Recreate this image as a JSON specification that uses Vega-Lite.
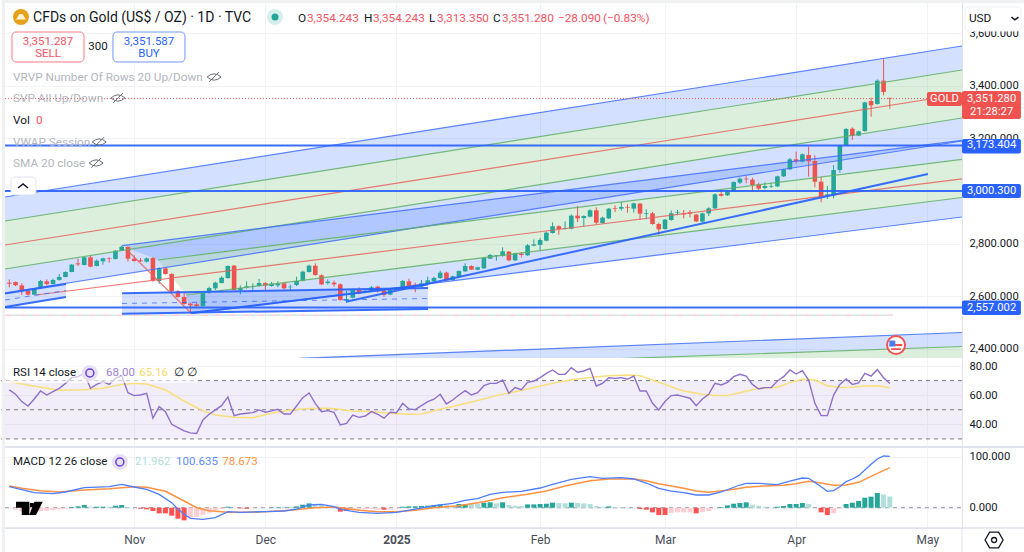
{"$schema":"https://vega.github.io/schema/vega-lite/v6.json","padding":0,"spacing":0,"bounds":"flush","background":"white",
"config":{"view":{"stroke":null},"font":"Roboto","axis":{"labelFont":"Roboto","labelFontSize":11.2,"labelColor":"#131722","gridColor":"#f2f3f7","gridWidth":1,"ticks":false,"title":null}},
"datasets":{
"candles":[{"k":0,"open":2651.4,"close":2647.6,"high":2664,"low":2633.7},{"k":1,"open":2654,"close":2641.3,"high":2655.3,"low":2638.8},{"k":2,"open":2641,"close":2619.8,"high":2649,"low":2604.6},{"k":3,"open":2621,"close":2605.8,"high":2626,"low":2603},{"k":4,"open":2606,"close":2628.6,"high":2631,"low":2603},{"k":5,"open":2630,"close":2657.8,"high":2661.6,"low":2628.6},{"k":6,"open":2656.5,"close":2646.4,"high":2664,"low":2641},{"k":7,"open":2646,"close":2661.6,"high":2666.6,"low":2645},{"k":8,"open":2662,"close":2673,"high":2684.4,"low":2659},{"k":9,"open":2673,"close":2692,"high":2694.5,"low":2671.7},{"k":10,"open":2692,"close":2720,"high":2722.4,"low":2690.7},{"k":11,"open":2725,"close":2721,"high":2742.7,"low":2714.8},{"k":12,"open":2718.6,"close":2747.8,"high":2750,"low":2717.3},{"k":13,"open":2747.8,"close":2712.3,"high":2755.4,"low":2709.8},{"k":14,"open":2714.8,"close":2735,"high":2740,"low":2713.5},{"k":15,"open":2732.6,"close":2744,"high":2746.5,"low":2720},{"k":16,"open":2745,"close":2742.7,"high":2747.8,"low":2727.5},{"k":17,"open":2741.4,"close":2773,"high":2775.6,"low":2740},{"k":18,"open":2773,"close":2788,"high":2792,"low":2771.8},{"k":19,"open":2787,"close":2742.7,"high":2789.6,"low":2731.3},{"k":20,"open":2742.7,"close":2733.8,"high":2755.4,"low":2731.3},{"k":21,"open":2736.4,"close":2732.6,"high":2745,"low":2730},{"k":22,"open":2731.3,"close":2744,"high":2747.8,"low":2727.5},{"k":23,"open":2745,"close":2659,"high":2747.8,"low":2655.3},{"k":24,"open":2657.8,"close":2707.2,"high":2709.8,"low":2646.4},{"k":25,"open":2706,"close":2684.4,"high":2709.8,"low":2681.9},{"k":26,"open":2684.4,"close":2618.5,"high":2687,"low":2616},{"k":27,"open":2619.8,"close":2597,"high":2623.6,"low":2594.4},{"k":28,"open":2597,"close":2570.3,"high":2613.4,"low":2567.8},{"k":29,"open":2571.6,"close":2565.3,"high":2575.4,"low":2537.4},{"k":30,"open":2569,"close":2562.7,"high":2575.4,"low":2557.7},{"k":31,"open":2562.7,"close":2613.4,"high":2616,"low":2560},{"k":32,"open":2612,"close":2631,"high":2636,"low":2609.6},{"k":33,"open":2629.9,"close":2651.4,"high":2655.3,"low":2623.6},{"k":34,"open":2650,"close":2670.5,"high":2675.5,"low":2649},{"k":35,"open":2669,"close":2714.8,"high":2717.3,"low":2666.7},{"k":36,"open":2716,"close":2623.6,"high":2718.6,"low":2621},{"k":37,"open":2623.6,"close":2631,"high":2641,"low":2607},{"k":38,"open":2632.5,"close":2637.5,"high":2656.5,"low":2628.6},{"k":39,"open":2636,"close":2638.8,"high":2649,"low":2617.2},{"k":40,"open":2638.8,"close":2650,"high":2665.4,"low":2636},{"k":41,"open":2650,"close":2640,"high":2654,"low":2621},{"k":42,"open":2638.8,"close":2647.6,"high":2654,"low":2636},{"k":43,"open":2641.3,"close":2647.6,"high":2656.5,"low":2633.7},{"k":44,"open":2649,"close":2629.9,"high":2652.7,"low":2624.8},{"k":45,"open":2633.7,"close":2636,"high":2643.8,"low":2619.8},{"k":46,"open":2642.6,"close":2657.8,"high":2674.3,"low":2638.8},{"k":47,"open":2659,"close":2693.3,"high":2697,"low":2656.5},{"k":48,"open":2692,"close":2716,"high":2720,"low":2689.5},{"k":49,"open":2716,"close":2680.6,"high":2725,"low":2678},{"k":50,"open":2679.3,"close":2645,"high":2683,"low":2642.6},{"k":51,"open":2650,"close":2655.3,"high":2664,"low":2643.8},{"k":52,"open":2651.4,"close":2645,"high":2659,"low":2636},{"k":53,"open":2645,"close":2585.5,"high":2649,"low":2583},{"k":54,"open":2583,"close":2589.4,"high":2621,"low":2575.4},{"k":55,"open":2594.4,"close":2626,"high":2628.6,"low":2592},{"k":56,"open":2623.6,"close":2610.9,"high":2633.7,"low":2607},{"k":57,"open":2613.5,"close":2618.5,"high":2623.6,"low":2612},{"k":58,"open":2618.5,"close":2633.7,"high":2638.8,"low":2616},{"k":59,"open":2636.3,"close":2618.5,"high":2640,"low":2613.5},{"k":60,"open":2621,"close":2604.6,"high":2623.6,"low":2598},{"k":61,"open":2605.9,"close":2623.6,"high":2626,"low":2603.3},{"k":62,"open":2624.8,"close":2628.6,"high":2633.7,"low":2622.3},{"k":63,"open":2624.8,"close":2657.8,"high":2661.6,"low":2622.3},{"k":64,"open":2656.5,"close":2638.8,"high":2666.7,"low":2633.7},{"k":65,"open":2643.9,"close":2640,"high":2651.5,"low":2614.7},{"k":66,"open":2636.3,"close":2649,"high":2661.6,"low":2633.7},{"k":67,"open":2647.7,"close":2660.4,"high":2674.3,"low":2645},{"k":68,"open":2656.5,"close":2669.2,"high":2674.3,"low":2654},{"k":69,"open":2669.2,"close":2689.5,"high":2697,"low":2666.7},{"k":70,"open":2689.5,"close":2660.4,"high":2693.3,"low":2657.8},{"k":71,"open":2661.6,"close":2675.6,"high":2678,"low":2659},{"k":72,"open":2674.3,"close":2695.8,"high":2698.4,"low":2671.8},{"k":73,"open":2694.6,"close":2714.8,"high":2725,"low":2692},{"k":74,"open":2714.8,"close":2700.9,"high":2717.4,"low":2699.6},{"k":75,"open":2700.9,"close":2709.8,"high":2712.3,"low":2698.4},{"k":76,"open":2706,"close":2745.3,"high":2747.8,"low":2703.4},{"k":77,"open":2742.7,"close":2756.7,"high":2760.5,"low":2741.5},{"k":78,"open":2752.9,"close":2755.4,"high":2756.7,"low":2735.1},{"k":79,"open":2752.9,"close":2770.6,"high":2785.8,"low":2750.3},{"k":80,"open":2769.3,"close":2736.4,"high":2771.9,"low":2732.6},{"k":81,"open":2736.4,"close":2763,"high":2765.5,"low":2733.9},{"k":82,"open":2761.7,"close":2756.7,"high":2768,"low":2747.8},{"k":83,"open":2755.4,"close":2793.4,"high":2798.5,"low":2752.9},{"k":84,"open":2792.2,"close":2797.2,"high":2816.2,"low":2789.6},{"k":85,"open":2794.7,"close":2813.7,"high":2821.3,"low":2773.2},{"k":86,"open":2811.2,"close":2841.6,"high":2846.6,"low":2808.6},{"k":87,"open":2840.3,"close":2865.7,"high":2880.9,"low":2837.8},{"k":88,"open":2865.7,"close":2855.5,"high":2869.5,"low":2834},{"k":89,"open":2855.5,"close":2859.3,"high":2884.7,"low":2853},{"k":90,"open":2856.8,"close":2906.2,"high":2911.3,"low":2854.3},{"k":91,"open":2906.2,"close":2896,"high":2943,"low":2882},{"k":92,"open":2897.3,"close":2905,"high":2907.5,"low":2864.4},{"k":93,"open":2902.4,"close":2926.5,"high":2930.3,"low":2899.9},{"k":94,"open":2926.5,"close":2879.6,"high":2937.9,"low":2874.5},{"k":95,"open":2878.3,"close":2898.6,"high":2902.4,"low":2875.8},{"k":96,"open":2896,"close":2932.8,"high":2935.4,"low":2893.5},{"k":97,"open":2935.4,"close":2932.8,"high":2945.5,"low":2920.2},{"k":98,"open":2932.8,"close":2939.2,"high":2958.2,"low":2925.2},{"k":99,"open":2937.9,"close":2935.4,"high":2949.3,"low":2917.6},{"k":100,"open":2932.8,"close":2953.1,"high":2955.7,"low":2917.6},{"k":101,"open":2951.9,"close":2913.8,"high":2954.4,"low":2889.7},{"k":102,"open":2912.6,"close":2915.1,"high":2930.3,"low":2892.3},{"k":103,"open":2915.1,"close":2874.5,"high":2920.2,"low":2872},{"k":104,"open":2874.5,"close":2854.3,"high":2879.6,"low":2832.7},{"k":105,"open":2855.5,"close":2891,"high":2893.5,"low":2853},{"k":106,"open":2889.7,"close":2915.1,"high":2925.2,"low":2887.2},{"k":107,"open":2917.6,"close":2920.2,"high":2927.8,"low":2907.5},{"k":108,"open":2915,"close":2911,"high":2927.7,"low":2896},{"k":109,"open":2918.9,"close":2913.8,"high":2927.7,"low":2899.8},{"k":110,"open":2910,"close":2884.6,"high":2912.5,"low":2882.1},{"k":111,"open":2883.4,"close":2915,"high":2917.6,"low":2879.6},{"k":112,"open":2915,"close":2934,"high":2937.9,"low":2904.9},{"k":113,"open":2934,"close":2987.3,"high":2991,"low":2931.5},{"k":114,"open":2988.6,"close":2982.2,"high":3006.3,"low":2978.4},{"k":115,"open":2983.5,"close":2998.7,"high":3002.5,"low":2981},{"k":116,"open":2999.9,"close":3034.2,"high":3036.7,"low":2997.4},{"k":117,"open":3031.7,"close":3046.9,"high":3051.9,"low":3026.6},{"k":118,"open":3046.9,"close":3044.3,"high":3057,"low":3029.1},{"k":119,"open":3043,"close":3022.8,"high":3050.7,"low":2998.7},{"k":120,"open":3025.3,"close":3008.8,"high":3031.7,"low":3003.8},{"k":121,"open":3011.4,"close":3019,"high":3033,"low":3006.3},{"k":122,"open":3016.4,"close":3019,"high":3031.7,"low":3011.4},{"k":123,"open":3017.7,"close":3055.7,"high":3058.3,"low":3015.2},{"k":124,"open":3055.7,"close":3082.3,"high":3084.9,"low":3053.2},{"k":125,"open":3082.3,"close":3120.4,"high":3125.4,"low":3079.8},{"k":126,"open":3120.4,"close":3112.8,"high":3149.5,"low":3105.2},{"k":127,"open":3111.5,"close":3139.4,"high":3143.2,"low":3109},{"k":128,"open":3136.8,"close":3112.8,"high":3168.5,"low":3054.5},{"k":129,"open":3114,"close":3035.5,"high":3135.6,"low":3013.9},{"k":130,"open":3035.5,"close":2978.4,"high":3054.5,"low":2956.9},{"k":131,"open":2984.8,"close":2987.3,"high":3019,"low":2969.5},{"k":132,"open":2983.5,"close":3079.8,"high":3098.8,"low":2972},{"k":133,"open":3079.8,"close":3172.3,"high":3174.9,"low":3069.7},{"k":134,"open":3174.9,"close":3235.7,"high":3239.5,"low":3172.3},{"k":135,"open":3237,"close":3209.1,"high":3242,"low":3193.9},{"k":136,"open":3210.3,"close":3226.8,"high":3229.4,"low":3209.1},{"k":137,"open":3228,"close":3337.1,"high":3339.6,"low":3225.6},{"k":138,"open":3342.2,"close":3325.7,"high":3354.8,"low":3282.6},{"k":139,"open":3330.8,"close":3419.5,"high":3424.5,"low":3328.2},{"k":140,"open":3419.5,"close":3376.4,"high":3500.6,"low":3363.7},{"k":141,"open":3354.243,"close":3351.28,"high":3354.243,"low":3313.35}],
"ind":[{"k":0,"rsi":63.6,"hist":-0.7,"phase":"n"},{"k":1,"rsi":60.6,"hist":-3.9,"phase":"n"},{"k":2,"rsi":55.6,"hist":-7.2,"phase":"n"},{"k":3,"rsi":52.6,"hist":-6.5,"phase":"n"},{"k":4,"rsi":57.4,"hist":-7.8,"phase":"n"},{"k":5,"rsi":62.9,"hist":-6.5,"phase":"n"},{"k":6,"rsi":60.1,"hist":-5.9,"phase":"n"},{"k":7,"rsi":62.4,"hist":-4.6,"phase":"n"},{"k":8,"rsi":64.7,"hist":-3.3,"phase":"n"},{"k":9,"rsi":68.1,"hist":-1.3,"phase":"n"},{"k":10,"rsi":72,"hist":1.3,"phase":"P"},{"k":11,"rsi":72.7,"hist":2.6,"phase":"P"},{"k":12,"rsi":75,"hist":5.2,"phase":"P"},{"k":13,"rsi":64.7,"hist":2,"phase":"p"},{"k":14,"rsi":67.4,"hist":2,"phase":"P"},{"k":15,"rsi":69.3,"hist":2,"phase":"P"},{"k":16,"rsi":67.4,"hist":2,"phase":"p"},{"k":17,"rsi":71.5,"hist":3.9,"phase":"P"},{"k":18,"rsi":73.4,"hist":5.2,"phase":"P"},{"k":19,"rsi":61.7,"hist":1.3,"phase":"p"},{"k":20,"rsi":59.7,"hist":0,"phase":"p"},{"k":21,"rsi":60.1,"hist":-2,"phase":"N"},{"k":22,"rsi":61.3,"hist":-3.3,"phase":"N"},{"k":23,"rsi":44.2,"hist":-6.5,"phase":"N"},{"k":24,"rsi":52.1,"hist":-11.1,"phase":"N"},{"k":25,"rsi":48.7,"hist":-11.1,"phase":"N"},{"k":26,"rsi":40,"hist":-15.7,"phase":"N"},{"k":27,"rsi":37.8,"hist":-21.6,"phase":"N"},{"k":28,"rsi":35.5,"hist":-24.8,"phase":"N"},{"k":29,"rsi":34.1,"hist":-19.6,"phase":"n"},{"k":30,"rsi":33.7,"hist":-18.3,"phase":"n"},{"k":31,"rsi":43,"hist":-14.4,"phase":"n"},{"k":32,"rsi":46.9,"hist":-9.8,"phase":"n"},{"k":33,"rsi":49.9,"hist":-5.2,"phase":"n"},{"k":34,"rsi":52.8,"hist":-2.6,"phase":"n"},{"k":35,"rsi":58.8,"hist":2,"phase":"P"},{"k":36,"rsi":46,"hist":0,"phase":"p"},{"k":37,"rsi":47.1,"hist":-1.3,"phase":"N"},{"k":38,"rsi":47.6,"hist":-2,"phase":"N"},{"k":39,"rsi":48,"hist":-0.7,"phase":"n"},{"k":40,"rsi":49.9,"hist":-0.7,"phase":"n"},{"k":41,"rsi":48.3,"hist":-0.7,"phase":"n"},{"k":42,"rsi":49.2,"hist":0.7,"phase":"P"},{"k":43,"rsi":50.3,"hist":0.7,"phase":"P"},{"k":44,"rsi":47.1,"hist":0.7,"phase":"P"},{"k":45,"rsi":47.1,"hist":0.7,"phase":"P"},{"k":46,"rsi":52.6,"hist":2.6,"phase":"P"},{"k":47,"rsi":58.3,"hist":5.9,"phase":"P"},{"k":48,"rsi":61.5,"hist":8.5,"phase":"P"},{"k":49,"rsi":54.4,"hist":7.8,"phase":"p"},{"k":50,"rsi":48.7,"hist":5.2,"phase":"p"},{"k":51,"rsi":49.4,"hist":2.6,"phase":"p"},{"k":52,"rsi":48.3,"hist":0,"phase":"p"},{"k":53,"rsi":39.6,"hist":-7.8,"phase":"N"},{"k":54,"rsi":40.7,"hist":-6.5,"phase":"N"},{"k":55,"rsi":46.4,"hist":-3.9,"phase":"n"},{"k":56,"rsi":44.8,"hist":-3.3,"phase":"n"},{"k":57,"rsi":45.7,"hist":-3.3,"phase":"n"},{"k":58,"rsi":48.7,"hist":-2.6,"phase":"n"},{"k":59,"rsi":46.9,"hist":-3.9,"phase":"n"},{"k":60,"rsi":44.2,"hist":-3.9,"phase":"N"},{"k":61,"rsi":48.3,"hist":-3.3,"phase":"n"},{"k":62,"rsi":48,"hist":-1.3,"phase":"n"},{"k":63,"rsi":54.4,"hist":2,"phase":"P"},{"k":64,"rsi":50.5,"hist":2.6,"phase":"P"},{"k":65,"rsi":50.1,"hist":2.6,"phase":"P"},{"k":66,"rsi":52.8,"hist":3.3,"phase":"P"},{"k":67,"rsi":55.6,"hist":3.9,"phase":"P"},{"k":68,"rsi":57.2,"hist":5.2,"phase":"P"},{"k":69,"rsi":60.6,"hist":6.5,"phase":"P"},{"k":70,"rsi":54,"hist":5.2,"phase":"p"},{"k":71,"rsi":56.7,"hist":3.3,"phase":"p"},{"k":72,"rsi":60.1,"hist":7.2,"phase":"P"},{"k":73,"rsi":63.1,"hist":7.2,"phase":"P"},{"k":74,"rsi":60.1,"hist":7.8,"phase":"p"},{"k":75,"rsi":61.7,"hist":7.8,"phase":"p"},{"k":76,"rsi":66.5,"hist":9.8,"phase":"P"},{"k":77,"rsi":68.1,"hist":10.5,"phase":"P"},{"k":78,"rsi":68.1,"hist":8.5,"phase":"p"},{"k":79,"rsi":70.4,"hist":10.5,"phase":"P"},{"k":80,"rsi":61.3,"hist":5.2,"phase":"p"},{"k":81,"rsi":65.2,"hist":3.9,"phase":"p"},{"k":82,"rsi":63.8,"hist":3.3,"phase":"p"},{"k":83,"rsi":68.8,"hist":6.5,"phase":"P"},{"k":84,"rsi":69.7,"hist":6.5,"phase":"P"},{"k":85,"rsi":72,"hist":7.2,"phase":"P"},{"k":86,"rsi":75,"hist":7.8,"phase":"P"},{"k":87,"rsi":77.3,"hist":9.8,"phase":"P"},{"k":88,"rsi":74.3,"hist":9.2,"phase":"p"},{"k":89,"rsi":74.3,"hist":8.5,"phase":"p"},{"k":90,"rsi":78.9,"hist":9.8,"phase":"P"},{"k":91,"rsi":75.7,"hist":9.2,"phase":"p"},{"k":92,"rsi":76.6,"hist":8.5,"phase":"p"},{"k":93,"rsi":78.4,"hist":7.2,"phase":"p"},{"k":94,"rsi":66.3,"hist":3.3,"phase":"p"},{"k":95,"rsi":68.1,"hist":2,"phase":"p"},{"k":96,"rsi":72,"hist":2.6,"phase":"P"},{"k":97,"rsi":71.5,"hist":1.3,"phase":"p"},{"k":98,"rsi":72,"hist":1.3,"phase":"p"},{"k":99,"rsi":70.9,"hist":0.7,"phase":"p"},{"k":100,"rsi":73.1,"hist":0,"phase":"p"},{"k":101,"rsi":62.9,"hist":-2.6,"phase":"N"},{"k":102,"rsi":62.9,"hist":-3.9,"phase":"N"},{"k":103,"rsi":54.4,"hist":-9.2,"phase":"N"},{"k":104,"rsi":49.9,"hist":-14.4,"phase":"N"},{"k":105,"rsi":55.6,"hist":-14.4,"phase":"N"},{"k":106,"rsi":59.7,"hist":-10.5,"phase":"n"},{"k":107,"rsi":60.1,"hist":-9.2,"phase":"n"},{"k":108,"rsi":59,"hist":-9.2,"phase":"n"},{"k":109,"rsi":57.9,"hist":-9.2,"phase":"n"},{"k":110,"rsi":52.8,"hist":-11.1,"phase":"N"},{"k":111,"rsi":57.4,"hist":-8.5,"phase":"n"},{"k":112,"rsi":60.6,"hist":-6.5,"phase":"n"},{"k":113,"rsi":68.1,"hist":-0.7,"phase":"n"},{"k":114,"rsi":67,"hist":1.3,"phase":"P"},{"k":115,"rsi":68.8,"hist":4.6,"phase":"P"},{"k":116,"rsi":72.7,"hist":7.8,"phase":"P"},{"k":117,"rsi":74.3,"hist":9.2,"phase":"P"},{"k":118,"rsi":73.1,"hist":10.5,"phase":"P"},{"k":119,"rsi":67.4,"hist":5.9,"phase":"p"},{"k":120,"rsi":64.2,"hist":3.9,"phase":"p"},{"k":121,"rsi":65.2,"hist":2,"phase":"p"},{"k":122,"rsi":65.2,"hist":0.7,"phase":"p"},{"k":123,"rsi":69.7,"hist":2,"phase":"P"},{"k":124,"rsi":72.7,"hist":3.3,"phase":"P"},{"k":125,"rsi":77.3,"hist":7.2,"phase":"P"},{"k":126,"rsi":74.5,"hist":7.2,"phase":"P"},{"k":127,"rsi":76.8,"hist":9.2,"phase":"P"},{"k":128,"rsi":70.4,"hist":7.2,"phase":"p"},{"k":129,"rsi":54.4,"hist":0,"phase":"p"},{"k":130,"rsi":46,"hist":-9.2,"phase":"N"},{"k":131,"rsi":46,"hist":-14.4,"phase":"N"},{"k":132,"rsi":60.1,"hist":-11.1,"phase":"n"},{"k":133,"rsi":67.4,"hist":-2,"phase":"n"},{"k":134,"rsi":71.1,"hist":7.2,"phase":"P"},{"k":135,"rsi":67.4,"hist":9.8,"phase":"P"},{"k":136,"rsi":68.4,"hist":13.1,"phase":"P"},{"k":137,"rsi":75,"hist":19.6,"phase":"P"},{"k":138,"rsi":73.1,"hist":21.6,"phase":"P"},{"k":139,"rsi":77.5,"hist":28.8,"phase":"P"},{"k":140,"rsi":72,"hist":26.1,"phase":"p"},{"k":141,"rsi":68,"hist":21.96,"phase":"p"}],
"rsima":[{"k":0,"v":69.3},{"k":3,"v":67},{"k":6,"v":64.7},{"k":8,"v":63.3},{"k":12,"v":63.8},{"k":15,"v":64.7},{"k":18,"v":67.4},{"k":20,"v":68.1},{"k":22,"v":67.7},{"k":25,"v":63.6},{"k":28,"v":56},{"k":31,"v":49.2},{"k":33,"v":46.4},{"k":36,"v":44.8},{"k":39,"v":44.6},{"k":42,"v":47.6},{"k":45,"v":49.9},{"k":48,"v":50.8},{"k":51,"v":51},{"k":53,"v":50.3},{"k":55,"v":49.2},{"k":58,"v":48.7},{"k":61,"v":47.6},{"k":64,"v":46.9},{"k":66,"v":47.1},{"k":69,"v":50.3},{"k":72,"v":53.3},{"k":75,"v":56.3},{"k":78,"v":59.7},{"k":81,"v":62.4},{"k":84,"v":65.2},{"k":87,"v":68.1},{"k":90,"v":70.6},{"k":93,"v":72.2},{"k":96,"v":73.4},{"k":99,"v":73.8},{"k":101,"v":73.4},{"k":103,"v":70.4},{"k":105,"v":67.4},{"k":107,"v":64.2},{"k":108,"v":62.9},{"k":111,"v":60.6},{"k":113,"v":59.7},{"k":115,"v":59.7},{"k":117,"v":61.7},{"k":120,"v":64.7},{"k":123,"v":65.4},{"k":125,"v":68.6},{"k":127,"v":70.9},{"k":129,"v":70.4},{"k":131,"v":66.5},{"k":133,"v":65.2},{"k":135,"v":65.4},{"k":137,"v":66.3},{"k":139,"v":66.5},{"k":141,"v":65.16}],
"macdl":[{"k":0,"v":41.2},{"k":1,"v":38.6},{"k":4,"v":29.5},{"k":7,"v":27.5},{"k":9,"v":30.8},{"k":12,"v":39.3},{"k":16,"v":41.2},{"k":18,"v":45.8},{"k":20,"v":40.6},{"k":22,"v":36},{"k":24,"v":26.2},{"k":26,"v":9.9},{"k":27,"v":-2.6},{"k":28,"v":-13},{"k":29,"v":-20.9},{"k":31,"v":-22.8},{"k":33,"v":-19.6},{"k":35,"v":-7.8},{"k":37,"v":-9.1},{"k":41,"v":-7.8},{"k":44,"v":-6.5},{"k":46,"v":-2.6},{"k":48,"v":5.3},{"k":50,"v":6.6},{"k":52,"v":2},{"k":53,"v":-2.6},{"k":54,"v":-5.2},{"k":56,"v":-9.1},{"k":59,"v":-11.1},{"k":62,"v":-9.1},{"k":65,"v":-2.6},{"k":68,"v":4},{"k":71,"v":8.5},{"k":73,"v":14.4},{"k":75,"v":17.7},{"k":77,"v":26.2},{"k":79,"v":30.1},{"k":82,"v":32.1},{"k":85,"v":38.6},{"k":87,"v":45.8},{"k":90,"v":55.6},{"k":93,"v":60.8},{"k":95,"v":57.6},{"k":98,"v":58.9},{"k":100,"v":56.3},{"k":102,"v":48.4},{"k":104,"v":38},{"k":106,"v":32.7},{"k":108,"v":29.5},{"k":110,"v":24.9},{"k":112,"v":24.9},{"k":114,"v":30.8},{"k":117,"v":44.5},{"k":118,"v":47.8},{"k":120,"v":47.8},{"k":123,"v":45.1},{"k":125,"v":52.3},{"k":127,"v":58.2},{"k":128,"v":57.6},{"k":129,"v":49.7},{"k":130,"v":41.2},{"k":131,"v":32.1},{"k":132,"v":33.4},{"k":133,"v":41.2},{"k":134,"v":51},{"k":135,"v":56.3},{"k":136,"v":62.8},{"k":137,"v":73.9},{"k":138,"v":85},{"k":139,"v":95.5},{"k":140,"v":101.4},{"k":141,"v":100.635}],
"signal":[{"k":0,"v":42.5},{"k":2,"v":38},{"k":5,"v":33.4},{"k":8,"v":30.8},{"k":12,"v":34.7},{"k":16,"v":37.3},{"k":20,"v":41.2},{"k":22,"v":39.9},{"k":25,"v":32.1},{"k":28,"v":13.1},{"k":30,"v":0},{"k":32,"v":-5.8},{"k":35,"v":-9.1},{"k":38,"v":-9.1},{"k":41,"v":-7.8},{"k":45,"v":-5.2},{"k":49,"v":0},{"k":52,"v":1.3},{"k":53,"v":0},{"k":56,"v":-5.2},{"k":59,"v":-7.8},{"k":62,"v":-7.8},{"k":65,"v":-5.2},{"k":68,"v":0},{"k":72,"v":4},{"k":76,"v":11.8},{"k":79,"v":19.6},{"k":83,"v":26.2},{"k":86,"v":32.7},{"k":89,"v":42.5},{"k":93,"v":53},{"k":96,"v":56.3},{"k":100,"v":56.3},{"k":102,"v":53},{"k":104,"v":47.1},{"k":106,"v":42.5},{"k":108,"v":38},{"k":110,"v":32.7},{"k":112,"v":30.1},{"k":115,"v":34},{"k":118,"v":39.9},{"k":121,"v":42.5},{"k":124,"v":43.8},{"k":126,"v":47.1},{"k":128,"v":51.7},{"k":130,"v":48.4},{"k":132,"v":43.8},{"k":134,"v":44.5},{"k":136,"v":49.7},{"k":138,"v":61.5},{"k":141,"v":78.673}],
"bands":[
{"band":"c1a","kind":"blue","k":-0.69,"p":2977.2,"p2":2886},{"band":"c1a","kind":"blue","k":152.56,"p":3551.3,"p2":3460},
{"band":"c1b","kind":"green","k":-0.69,"p":2886,"p2":2703.5},{"band":"c1b","kind":"green","k":152.56,"p":3460,"p2":3277.6},
{"band":"c1c","kind":"blue","k":-0.69,"p":2703.5,"p2":2612.2},{"band":"c1c","kind":"blue","k":152.56,"p":3277.6,"p2":3190.1},
{"band":"c2a","kind":"blue","k":18.05,"p":2792.1,"p2":2792.1},{"band":"c2a","kind":"blue","k":23.81,"p":2809.2,"p2":2737.7},{"band":"c2a","kind":"blue","k":152.56,"p":3192.4,"p2":3120.5},
{"band":"c2b","kind":"green","k":23.81,"p":2737.7,"p2":2737.7},{"band":"c2b","kind":"green","k":28.3,"p":2751,"p2":2604.6},{"band":"c2b","kind":"green","k":152.56,"p":3120.5,"p2":2975.3},
{"band":"c2c","kind":"blue","k":28.3,"p":2604.6,"p2":2604.6},{"band":"c2c","kind":"blue","k":29.1,"p":2606.9,"p2":2534.3},{"band":"c2c","kind":"blue","k":152.56,"p":2975.3,"p2":2901.2},
{"band":"c3a","kind":"blue","k":46.4,"p":2363.2,"p2":2319.5},{"band":"c3a","kind":"blue","k":152.56,"p":2462,"p2":2408.8},
{"band":"c3b","kind":"green","k":46.4,"p":2319.5,"p2":2280},{"band":"c3b","kind":"green","k":152.56,"p":2408.8,"p2":2280},
{"band":"boxA","kind":"blue","k":-0.69,"p":2610.3,"p2":2559},{"band":"boxA","kind":"blue","k":9.08,"p":2646.5,"p2":2597},
{"band":"boxB","kind":"blue","k":18.05,"p":2611,"p2":2533.5},{"band":"boxB","kind":"blue","k":67.05,"p":2631.2,"p2":2551.4}],
"thin":[
{"line":"c1top","kind":"blue","k":-0.69,"p":2977.2},{"line":"c1top","kind":"blue","k":152.56,"p":3551.3},
{"line":"c1g1","kind":"green","k":-0.69,"p":2886},{"line":"c1g1","kind":"green","k":152.56,"p":3460},
{"line":"c1r","kind":"red","k":-0.69,"p":2794.7},{"line":"c1r","kind":"red","k":152.56,"p":3368.8},
{"line":"c1g2","kind":"green","k":-0.69,"p":2703.5},{"line":"c1g2","kind":"green","k":152.56,"p":3277.6},
{"line":"c1bot","kind":"blue","k":-0.69,"p":2612.2},{"line":"c1bot","kind":"blue","k":152.56,"p":3190.1},
{"line":"c2top","kind":"blue","k":18.05,"p":2792.1},{"line":"c2top","kind":"blue","k":152.56,"p":3192.4},
{"line":"c2g1","kind":"green","k":23.81,"p":2737.7},{"line":"c2g1","kind":"green","k":152.56,"p":3120.5},
{"line":"c2r","kind":"red","k":4.28,"p":2604.6},{"line":"c2r","kind":"red","k":152.56,"p":3046.4},
{"line":"c2g2","kind":"green","k":28.3,"p":2604.6},{"line":"c2g2","kind":"green","k":152.56,"p":2975.3},
{"line":"c2bot","kind":"blue","k":29.1,"p":2534.3},{"line":"c2bot","kind":"blue","k":152.56,"p":2901.2},
{"line":"c3top","kind":"blue","k":46.4,"p":2363.2},{"line":"c3top","kind":"blue","k":152.56,"p":2462},
{"line":"c3g","kind":"green","k":46.4,"p":2319.5},{"line":"c3g","kind":"green","k":152.56,"p":2408.8},
{"line":"diag","kind":"red","k":19,"p":2771.9},{"line":"diag","kind":"red","k":29.1,"p":2536.2}],
"thick":[
{"line":"h1","k":-0.69,"p":3173.404},{"line":"h1","k":152.56,"p":3173.404},
{"line":"h2","k":-0.69,"p":3000.3},{"line":"h2","k":152.56,"p":3000.3},
{"line":"h3","k":-0.69,"p":2557.002},{"line":"h3","k":152.56,"p":2557.002},
{"line":"t1","k":29.1,"p":2536.2},{"line":"t1","k":67.05,"p":2644.5},
{"line":"t2","k":53.9,"p":2579.2},{"line":"t2","k":147.1,"p":3064.7},
{"line":"at","k":-0.69,"p":2610.3},{"line":"at","k":9.08,"p":2646.5},
{"line":"ab","k":-0.69,"p":2559},{"line":"ab","k":9.08,"p":2597},
{"line":"bt","k":18.05,"p":2611},{"line":"bt","k":67.05,"p":2631.2},
{"line":"bb","k":18.05,"p":2533.5},{"line":"bb","k":67.05,"p":2551.4}],
"mids":[{"line":"am","k":-0.69,"p":2585.6},{"line":"am","k":9.08,"p":2621.7},{"line":"bm","k":18.05,"p":2572.3},{"line":"bm","k":67.05,"p":2591.3}],
"lastp":[{"k":-0.69,"p":3351.28},{"k":152.56,"p":3351.28}],
"poc":[{"k":-0.69,"p":2528},{"k":141.5,"p":2528}],
"panelsMain":[{"k":-1.2,"k2":162.64,"p":3726.2,"p2":3714.8},{"k":-1.2,"k2":-0.69,"p":3726.2,"p2":2365}],
"whiteBoxes":[{"k":153.04,"k2":162,"p":3699.6,"p2":3608.3,"id":"usd"},{"k":0.43,"k2":11.96,"p":3604.5,"p2":3490.5,"id":"sell"},{"k":16.6,"k2":28.13,"p":3604.5,"p2":3490.5,"id":"buy"},{"k":0.27,"k2":4.28,"p":3053.2,"p2":2984.8,"id":"fold"}],
"priceTags":[{"k":152.56,"k2":162,"p":3197.7,"p2":3142.6,"tone":"blue"},{"k":152.56,"k2":162,"p":3026.6,"p2":2973.4,"tone":"blue"},{"k":152.56,"k2":162,"p":2583.7,"p2":2528.6,"tone":"blue"},{"k":152.56,"k2":162,"p":3380.2,"p2":3273.8,"tone":"red"},{"k":146.95,"k2":152.56,"p":3376.4,"p2":3323,"tone":"red"}],
"tagText":[{"k":157.3,"p":3173.4,"label":"3,173.404"},{"k":157.3,"p":3000.3,"label":"3,000.300"},{"k":157.3,"p":2556,"label":"2,557.002"},{"k":157.3,"p":3349.8,"label":"3,351.280"},{"k":157.3,"p":3300.4,"label":"21:28:27"},{"k":149.75,"p":3350,"label":"GOLD"}],
"headLeft":[
{"k":46.23,"p":3657.8,"label":"O","tone":"ink"},{"k":47.67,"p":3657.8,"label":"3,354.243","tone":"red"},
{"k":56.8,"p":3657.8,"label":"H","tone":"ink"},{"k":58.24,"p":3657.8,"label":"3,354.243","tone":"red"},
{"k":67.2,"p":3657.8,"label":"L","tone":"ink"},{"k":68.5,"p":3657.8,"label":"3,313.350","tone":"red"},
{"k":77.45,"p":3657.8,"label":"C","tone":"ink"},{"k":78.9,"p":3657.8,"label":"3,351.280","tone":"red"},
{"k":87.86,"p":3657.8,"label":"−28.090","tone":"red"},{"k":95.07,"p":3657.8,"label":"(−0.83%)","tone":"red"},
{"k":0.59,"p":3433.4,"label":"VRVP Number Of Rows 20 Up/Down","tone":"gray"},
{"k":0.59,"p":3353.6,"label":"SVP All Up/Down","tone":"gray"},
{"k":0.59,"p":3270,"label":"Vol","tone":"ink"},{"k":4.28,"p":3270,"label":"0","tone":"red"},
{"k":0.59,"p":3186.3,"label":"VWAP Session","tone":"gray"},
{"k":0.59,"p":3106.5,"label":"SMA 20 close","tone":"gray"},
{"k":153.67,"p":3655.9,"label":"USD","tone":"ink"}],
"headCenter":[
{"k":6.2,"p":3566.5,"label":"3,351.287","tone":"red"},{"k":6.2,"p":3520.9,"label":"SELL","tone":"red"},
{"k":14.2,"p":3547.5,"label":"300","tone":"ink"},
{"k":22.37,"p":3566.5,"label":"3,351.587","tone":"blue"},{"k":22.37,"p":3520.9,"label":"BUY","tone":"blue"}],
"title":[{"k":3.8,"p":3657.8,"label":"CFDs on Gold (US$ / OZ) · 1D · TVC"}],
"eyes":[{"k":32.8,"p":3433.4},{"k":17.4,"p":3353.6},{"k":14.4,"p":3186.3},{"k":13.9,"p":3106.5}],
"chev":[{"k":2.2,"p":3019,"dir":"up"},{"k":161.04,"p":3655.9,"dir":"down"}],
"gold":[{"k":1.87,"p":3661.6}],"halo":[{"k":42.55,"p":3661.6}],
"flag":[{"k":142,"p":2414.5}],"flagb":[{"k":141.4,"p":2420}],
"rsiBand":[{"k":-0.69,"k2":152.56,"p":70,"p2":30}],
"rsiLevels":[{"lvl":70},{"lvl":50},{"lvl":30}],
"rsiBack":[{"k":-0.69,"k2":30.2,"p":80.7,"p2":68.4}],
"rsiEdge":[{"k":-1.2,"k2":-0.69,"p":85.5,"p2":24.45}],
"rsiSep":[{"k":-0.69,"k2":162.64,"p":24.45}],
"rsiText":[{"k":0.59,"p":75.2,"label":"RSI 14 close","tone":"ink"},{"k":15.5,"p":75.2,"label":"68.00","tone":"purple"},{"k":20.8,"p":75.2,"label":"65.16","tone":"yellow"},{"k":26.4,"p":75.2,"label":"∅","tone":"ink"},{"k":28.5,"p":75.2,"label":"∅","tone":"ink"}],
"rsiIcon":[{"k":12.9,"p":75.2}],
"macdEdge":[{"k":-1.2,"k2":-0.69,"p":119,"p2":-87.3}],
"macdSep":[{"k":-0.69,"k2":162.64,"p":-39.8}],
"macdV":[{"k":152.56,"p":-39.8,"p2":-87.3}],
"macdText":[{"k":0.59,"p":89.6,"label":"MACD 12 26 close","tone":"ink"},{"k":20.13,"p":89.6,"label":"21.962","tone":"teal"},{"k":26.7,"p":89.6,"label":"100.635","tone":"blue"},{"k":34.1,"p":89.6,"label":"78.673","tone":"orange"}],
"macdIcon":[{"k":17.7,"p":89.6}],
"logo":[{"k":3.24,"p":-1.6}],
"gear":[{"k":157.7,"p":-63.3}],
"zero":[{"k":-0.69,"k2":152.56,"p":0}]
},
"vconcat":[
{"width":961,"height":358,
"resolve":{"scale":{"color":"independent","fill":"independent","stroke":"independent"}},
"encoding":{"x":{"field":"k","type":"quantitative","scale":{"domain":[-1.329,152.56],"nice":false,"zero":false,"padding":0},"axis":{"values":[20,41,62,85,105,126,147],"labels":false,"grid":true,"domain":false,"title":null}},"y":{"field":"p","type":"quantitative","scale":{"domain":[2365,3726.2],"nice":false,"zero":false},"axis":{"orient":"right","values":[2400,2600,2800,3000,3200,3400,3600],"format":",.3f","labelExpr":"datum.value==3000?'':datum.label","grid":true,"domain":true,"domainColor":"#e0e3eb","labelPadding":7,"labelLimit":70,"title":null}}},
"layer":[
{"data":{"name":"bands"},"mark":{"type":"area","opacity":0.2,"clip":true,"orient":"vertical","interpolate":"linear"},"encoding":{"y2":{"field":"p2"},"detail":{"field":"band"},"color":{"field":"kind","type":"nominal","legend":null,"scale":{"domain":["blue","green"],"range":["#2962ff","#4caf50"]}}}},
{"data":{"name":"candles"},"mark":{"type":"rule","strokeWidth":1,"clip":true},"encoding":{"y":{"field":"low","type":"quantitative","title":null},"y2":{"field":"high"},"color":{"condition":{"test":"datum.close>=datum.open","value":"#26a69a"},"value":"#ef5350"}}},
{"data":{"name":"candles"},"mark":{"type":"bar","size":4.6,"clip":true,"orient":"vertical"},"encoding":{"y":{"field":"open","type":"quantitative","title":null},"y2":{"field":"close"},"color":{"condition":{"test":"datum.close>=datum.open","value":"#26a69a"},"value":"#ef5350"}}},
{"data":{"name":"thin"},"mark":{"type":"line","strokeWidth":1.2,"clip":true,"opacity":0.85},"encoding":{"detail":{"field":"line"},"color":{"field":"kind","type":"nominal","legend":null,"scale":{"domain":["blue","green","red"],"range":["#3f6ffb","#5fb064","#e8625c"]}}}},
{"data":{"name":"lastp"},"mark":{"type":"line","strokeWidth":1,"strokeDash":[1,2],"color":"#ef5350","clip":true},"encoding":{}},
{"data":{"name":"poc"},"mark":{"type":"line","strokeWidth":1,"strokeDash":[7,7],"color":"#f9b9bc","clip":true},"encoding":{}},
{"data":{"name":"poc"},"mark":{"type":"line","strokeWidth":1,"strokeDash":[7,7],"strokeDashOffset":7,"color":"#b5dfda","clip":true},"encoding":{}},
{"data":{"name":"mids"},"mark":{"type":"line","strokeWidth":1,"strokeDash":[5,5],"color":"#2962ff","opacity":0.7,"clip":true},"encoding":{"detail":{"field":"line"}}},
{"data":{"name":"thick"},"mark":{"type":"line","strokeWidth":2,"color":"#2962ff","clip":true,"opacity":0.92},"encoding":{"detail":{"field":"line"}}},
{"data":{"name":"gold"},"mark":{"type":"point","filled":true,"size":256,"color":"#e6a11a","opacity":1},"encoding":{}},
{"data":{"name":"gold"},"mark":{"type":"point","filled":true,"size":100,"shape":"M-1,.5L-.3,-.6H.3L1,.5Z","color":"#fff3d6","opacity":1},"encoding":{}},
{"data":{"name":"halo"},"mark":{"type":"point","filled":true,"size":256,"color":"#d5efec","opacity":1},"encoding":{}},
{"data":{"name":"halo"},"mark":{"type":"point","filled":true,"size":49,"color":"#26a69a","opacity":1},"encoding":{}},
{"data":{"name":"panelsMain"},"mark":{"type":"rect","color":"#eff0f2"},"encoding":{"x2":{"field":"k2"},"y2":{"field":"p2"}}},
{"data":{"name":"whiteBoxes"},"mark":{"type":"rect","fill":"white","cornerRadius":4,"strokeWidth":1},"encoding":{"x2":{"field":"k2"},"y2":{"field":"p2"},"stroke":{"field":"id","type":"nominal","legend":null,"scale":{"domain":["usd","sell","buy","fold"],"range":["#eef0f4","#f77c80","#6f97ff","#e0e3eb"]}}}},
{"data":{"name":"priceTags"},"mark":{"type":"rect","cornerRadius":2},"encoding":{"x2":{"field":"k2"},"y2":{"field":"p2"},"fill":{"field":"tone","type":"nominal","legend":null,"scale":{"domain":["blue","red"],"range":["#2962ff","#f0524f"]}}}},
{"data":{"name":"tagText"},"mark":{"type":"text","color":"white","fontSize":11.2,"font":"Roboto","align":"center","baseline":"middle"},"encoding":{"text":{"field":"label"}}},
{"data":{"name":"title"},"mark":{"type":"text","color":"#131722","fontSize":14,"font":"Roboto","align":"left","baseline":"middle"},"encoding":{"text":{"field":"label"}}},
{"data":{"name":"headLeft"},"mark":{"type":"text","fontSize":11.8,"font":"Roboto","align":"left","baseline":"middle"},"encoding":{"text":{"field":"label"},"color":{"field":"tone","type":"nominal","legend":null,"scale":{"domain":["ink","red","gray","blue"],"range":["#131722","#f7525f","#b2b5be","#2962ff"]}}}},
{"data":{"name":"headCenter"},"mark":{"type":"text","fontSize":11.5,"font":"Roboto","align":"center","baseline":"middle"},"encoding":{"text":{"field":"label"},"color":{"field":"tone","type":"nominal","legend":null,"scale":{"domain":["ink","red","gray","blue"],"range":["#131722","#f7525f","#b2b5be","#2962ff"]}}}},
{"data":{"name":"eyes"},"mark":{"type":"point","filled":false,"size":196,"strokeWidth":1,"color":"#6a6d78","opacity":1,"shape":"M-1,0Q0,-.9 1,0Q0,.9 -1,0ZM-.7,.7L.7,-.7"},"encoding":{}},
{"data":{"name":"chev"},"transform":[{"filter":"datum.dir=='up'"}],"mark":{"type":"point","filled":false,"size":100,"strokeWidth":1.5,"color":"#131722","opacity":1,"shape":"M-1,.4L0,-.4L1,.4"},"encoding":{}},
{"data":{"name":"chev"},"transform":[{"filter":"datum.dir=='down'"}],"mark":{"type":"point","filled":false,"size":49,"strokeWidth":1.5,"color":"#131722","opacity":1,"shape":"M-1,-.4L0,.4L1,-.4"},"encoding":{}},
{"data":{"name":"flag"},"mark":{"type":"point","filled":true,"size":324,"fill":"white","stroke":"#f0524f","strokeWidth":2,"opacity":1},"encoding":{}},
{"data":{"name":"flag"},"mark":{"type":"point","filled":true,"size":196,"color":"#f0524f","opacity":1,"shape":"M-.9,-.15H.9V.15H-.9ZM-.7,.45H.7V.7H-.7Z"},"encoding":{}},
{"data":{"name":"flagb"},"mark":{"type":"point","filled":true,"size":36,"shape":"square","color":"#4a7cf0","opacity":1},"encoding":{}}
]},
{"width":961,"height":89,
"resolve":{"scale":{"color":"independent"}},
"encoding":{"x":{"field":"k","type":"quantitative","scale":{"domain":[-1.329,152.56],"nice":false,"zero":false,"padding":0},"axis":{"values":[20,41,62,85,105,126,147],"labels":false,"grid":true,"domain":false,"title":null}},"y":{"field":"p","type":"quantitative","scale":{"domain":[24.45,85.5],"nice":false,"zero":false},"axis":{"orient":"right","values":[40,60,80],"format":".2f","grid":true,"domain":true,"domainColor":"#e0e3eb","labelPadding":7,"title":null}}},
"layer":[
{"data":{"name":"rsiBand"},"mark":{"type":"rect","color":"#7e57c2","opacity":0.1},"encoding":{"x2":{"field":"k2"},"y2":{"field":"p2"}}},
{"data":{"name":"rsiLevels"},"mark":{"type":"rule","strokeDash":[4,4],"color":"#787b86","strokeWidth":1},"encoding":{"x":null,"y":{"field":"lvl","type":"quantitative","title":null}}},
{"data":{"name":"rsima"},"mark":{"type":"line","color":"#f8df7a","strokeWidth":1.5,"clip":true},"encoding":{"y":{"field":"v","type":"quantitative","title":null}}},
{"data":{"name":"ind"},"mark":{"type":"line","color":"#8e6fcb","strokeWidth":1.4,"clip":true},"encoding":{"y":{"field":"rsi","type":"quantitative","title":null}}},
{"data":{"name":"rsiBack"},"mark":{"type":"rect","color":"white","opacity":0.6},"encoding":{"x2":{"field":"k2"},"y2":{"field":"p2"}}},
{"data":{"name":"rsiEdge"},"mark":{"type":"rect","color":"#eff0f2"},"encoding":{"x2":{"field":"k2"},"y2":{"field":"p2"}}},
{"data":{"name":"rsiSep"},"mark":{"type":"rule","color":"#e0e3eb","strokeWidth":2},"encoding":{"x2":{"field":"k2"}}},
{"data":{"name":"rsiText"},"mark":{"type":"text","fontSize":11.5,"font":"Roboto","align":"left","baseline":"middle"},"encoding":{"text":{"field":"label"},"color":{"field":"tone","type":"nominal","legend":null,"scale":{"domain":["ink","purple","yellow"],"range":["#131722","#9a7fd6","#f7d96a"]}}}},
{"data":{"name":"rsiIcon"},"mark":{"type":"point","filled":true,"size":256,"color":"#e6e0f5","opacity":1},"encoding":{}},
{"data":{"name":"rsiIcon"},"mark":{"type":"point","filled":false,"size":64,"strokeWidth":1.5,"color":"#6a3fd0","opacity":1},"encoding":{}}
]},
{"width":961,"height":81,
"resolve":{"scale":{"color":"independent"}},
"encoding":{"x":{"field":"k","type":"quantitative","scale":{"domain":[-1.329,152.56],"nice":false,"zero":false,"padding":0},"axis":{"values":[20,41,62,85,105,126,147],"labelExpr":"datum.value==20?'Nov':datum.value==41?'Dec':datum.value==62?'2025':datum.value==85?'Feb':datum.value==105?'Mar':datum.value==126?'Apr':'May'","labelFontWeight":{"condition":{"test":"datum.value==62","value":"bold"},"value":"normal"},"labelFontSize":12,"grid":true,"domain":true,"domainColor":"#e0e3eb","labelPadding":6,"labelColor":"#4a4e59","title":null}},"y":{"field":"p","type":"quantitative","scale":{"domain":[-39.8,119],"nice":false,"zero":false},"axis":{"orient":"right","values":[0,100],"format":".3f","grid":true,"domain":true,"domainColor":"#e0e3eb","labelPadding":7,"title":null}}},
"layer":[
{"data":{"name":"zero"},"mark":{"type":"rule","strokeDash":[4,4],"color":"#9598a1","strokeWidth":1},"encoding":{"x2":{"field":"k2"}}},
{"data":{"name":"ind"},"mark":{"type":"bar","size":5,"orient":"vertical"},"encoding":{"y":{"field":"hist","type":"quantitative","title":null},"y2":{"datum":0},"color":{"field":"phase","type":"nominal","legend":null,"scale":{"domain":["P","p","N","n"],"range":["#26a69a","#b2dfdb","#ff5252","#ffcdd2"]}}}},
{"data":{"name":"signal"},"mark":{"type":"line","color":"#ff9142","strokeWidth":1.5},"encoding":{"y":{"field":"v","type":"quantitative","title":null}}},
{"data":{"name":"macdl"},"mark":{"type":"line","color":"#4d7dff","strokeWidth":1.3},"encoding":{"y":{"field":"v","type":"quantitative","title":null}}},
{"data":{"name":"macdEdge"},"mark":{"type":"rect","color":"#eff0f2"},"encoding":{"x2":{"field":"k2"},"y2":{"field":"p2"}}},
{"data":{"name":"macdSep"},"mark":{"type":"rule","color":"#e0e3eb","strokeWidth":1.5},"encoding":{"x2":{"field":"k2"}}},
{"data":{"name":"macdV"},"mark":{"type":"rule","color":"#e0e3eb","strokeWidth":1},"encoding":{"y2":{"field":"p2"}}},
{"data":{"name":"macdText"},"mark":{"type":"text","fontSize":11.5,"font":"Roboto","align":"left","baseline":"middle"},"encoding":{"text":{"field":"label"},"color":{"field":"tone","type":"nominal","legend":null,"scale":{"domain":["ink","teal","blue","orange"],"range":["#131722","#b2dfdb","#5b8cff","#ff9142"]}}}},
{"data":{"name":"macdIcon"},"mark":{"type":"point","filled":true,"size":256,"color":"#e6e0f5","opacity":1},"encoding":{}},
{"data":{"name":"macdIcon"},"mark":{"type":"point","filled":false,"size":64,"strokeWidth":1.5,"color":"#6a3fd0","opacity":1},"encoding":{}},
{"data":{"name":"logo"},"mark":{"type":"point","filled":true,"size":729,"color":"#000000","opacity":1,"shape":"M-1,-.504H-.015V.48H-.578V-.06H-1ZM.356,-.504H.978L.48,.48H-.015ZM.03,-.4H.3V-.12H.03Z"},"encoding":{}},
{"data":{"name":"gear"},"mark":{"type":"point","filled":false,"size":324,"strokeWidth":1.3,"color":"#131722","opacity":1,"shape":"M-1,0L-.5,-.87L.5,-.87L1,0L.5,.87L-.5,.87Z"},"encoding":{}},
{"data":{"name":"gear"},"mark":{"type":"point","filled":false,"size":25,"strokeWidth":1.3,"color":"#131722","opacity":1},"encoding":{}}
]}
]}
